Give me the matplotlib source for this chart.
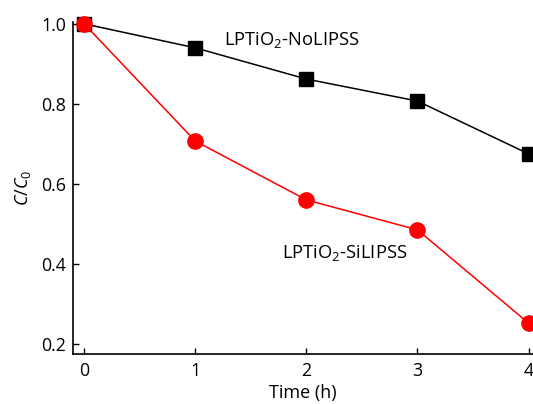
import numpy as np
import matplotlib
matplotlib.use("Agg")
import matplotlib.pyplot as plt

plt.rcParams['font.family'] = ['Open Sans', 'DejaVu Sans']
plt.rcParams['mathtext.fontset'] = 'custom'
plt.rcParams['mathtext.rm'] = 'Open Sans'
plt.rcParams['mathtext.it'] = 'Open Sans:italic'

time_h = [0, 1, 2, 3, 4]
no_lipss = [1.0, 0.94, 0.862, 0.807, 0.675]
si_lipss = [1.0, 0.707, 0.56, 0.485, 0.252]

fig = plt.figure(figsize=(5.33, 4.04), dpi=100)
ax = fig.add_axes([0.137, 0.124, 0.863, 0.822])

ax.plot(time_h, no_lipss, color='black', lw=1.1, marker='s', ms=10.5,
        clip_on=False, zorder=3)
ax.plot(time_h, si_lipss, color='red', lw=1.1, marker='o', ms=11,
        clip_on=False, zorder=4)

ax.text(1.255, 0.96, 'LPTiO$_2$-NoLIPSS', fontsize=13.2, ha='left', va='center')
ax.text(1.785, 0.428, 'LPTiO$_2$-SiLIPSS', fontsize=13.2, ha='left', va='center')

ax.set_xlim(-0.1, 4.04)
ax.set_ylim(0.175, 1.005)
ax.set_xticks([0, 1, 2, 3, 4])
ax.set_yticks([0.2, 0.4, 0.6, 0.8, 1.0])
ax.set_yticklabels(['0.2', '0.4', '0.6', '0.8', '1.0'])
ax.tick_params(direction='in', length=4, width=1, labelsize=12.8)
ax.tick_params(axis='x', pad=6)
ax.tick_params(axis='y', pad=5)

ax.spines['top'].set_visible(False)
ax.spines['right'].set_visible(False)
ax.spines['left'].set_linewidth(1.2)
ax.spines['bottom'].set_linewidth(1.2)

ax.set_xlabel('Time (h)', fontsize=13, labelpad=3)
ax.set_ylabel('$C/C_0$', fontsize=13, labelpad=6)

fig.savefig('out.png', dpi=100)
